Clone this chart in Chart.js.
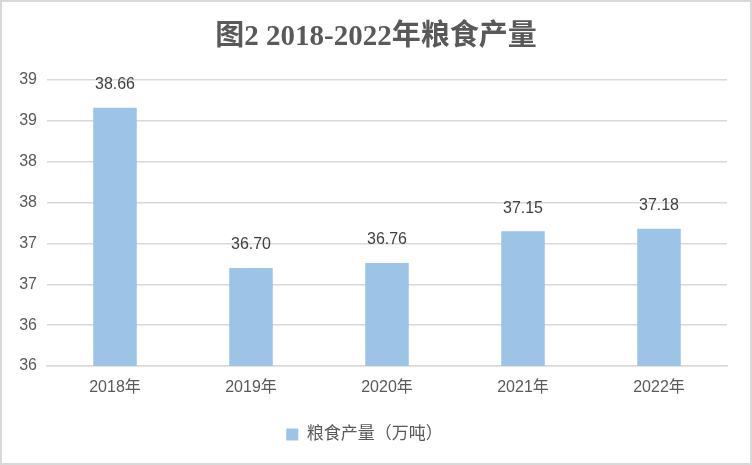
<!DOCTYPE html>
<html>
<head>
<meta charset="utf-8">
<script src="https://cdn.jsdelivr.net/npm/chart.js@4/dist/chart.umd.min.js"></script>
<style>
  html, body { margin: 0; padding: 0; background: #fff; }
  #wrap { width: 752px; height: 465px; box-sizing: border-box; border: 2px solid #d9d9d9; background: #fff; }
  canvas { display: block; }
</style>
</head>
<body>
<div id="wrap"><canvas id="c" width="748" height="461"></canvas></div>
<script>
const titleText = '图2 2018-2022年粮食产量';
const categories = ['2018年', '2019年', '2020年', '2021年', '2022年'];
const seriesName = '粮食产量（万吨）';
const grainOutput = [38.66, 36.70, 36.76, 37.15, 37.18];
const yMin = 35.5, yMax = 39, yStep = 0.5;

const titlePlugin = {
  id: 'titleText',
  afterDraw(chart) {
    const ctx = chart.ctx;
    ctx.save();
    ctx.font = "bold 29px 'Liberation Serif', 'Noto Sans CJK SC', serif";
    ctx.fillStyle = '#595959';
    ctx.textAlign = 'center';
    ctx.textBaseline = 'middle';
    ctx.fillText(titleText, chart.width / 2, 36);
    ctx.restore();
  }
};

const labelPlugin = {
  id: 'barLabels',
  afterDatasetsDraw(chart) {
    const ctx = chart.ctx;
    ctx.save();
    ctx.font = "16px 'Liberation Sans', 'Noto Sans CJK SC', sans-serif";
    ctx.fillStyle = '#404040';
    ctx.textAlign = 'center';
    ctx.textBaseline = 'middle';
    chart.getDatasetMeta(0).data.forEach((bar, i) => {
      ctx.fillText(chart.data.datasets[0].data[i].toFixed(2), bar.x, bar.y - 23);
    });
    ctx.restore();
  }
};

new Chart(document.getElementById('c'), {
  type: 'bar',
  data: {
    labels: categories,
    datasets: [{
      label: seriesName,
      data: grainOutput,
      backgroundColor: '#9dc3e6',
      borderWidth: 0,
      categoryPercentage: 1,
      barPercentage: 0.32
    }]
  },
  options: {
    responsive: false,
    animation: false,
    layout: { padding: { top: 78, right: 23, bottom: 10, left: 0 } },
    plugins: {
      title: { display: false },
      tooltip: { enabled: false },
      legend: {
        position: 'bottom',
        labels: {
          boxWidth: 12,
          boxHeight: 12,
          padding: 10,
          color: '#595959',
          font: { size: 17, family: "'Liberation Sans', 'Noto Sans CJK SC', sans-serif" }
        }
      }
    },
    scales: {
      x: {
        grid: { display: false, drawTicks: false },
        border: { display: true, color: '#d9d9d9', width: 1.5 },
        ticks: {
          color: '#595959',
          padding: 12,
          font: { size: 16, family: "'Liberation Sans', 'Noto Sans CJK SC', sans-serif" }
        },
        afterFit(scale) { scale.height = 50; }
      },
      y: {
        min: yMin,
        max: yMax,
        grid: { color: '#d9d9d9', lineWidth: 1.5, drawTicks: false },
        border: { display: false },
        ticks: {
          stepSize: yStep,
          color: '#595959',
          padding: 10,
          font: { size: 16, family: "'Liberation Sans', sans-serif" },
          callback: (v) => Math.round(v).toFixed(0)
        },
        afterFit(scale) { scale.width = 45; }
      }
    }
  },
  plugins: [titlePlugin, labelPlugin]
});
</script>
</body>
</html>
